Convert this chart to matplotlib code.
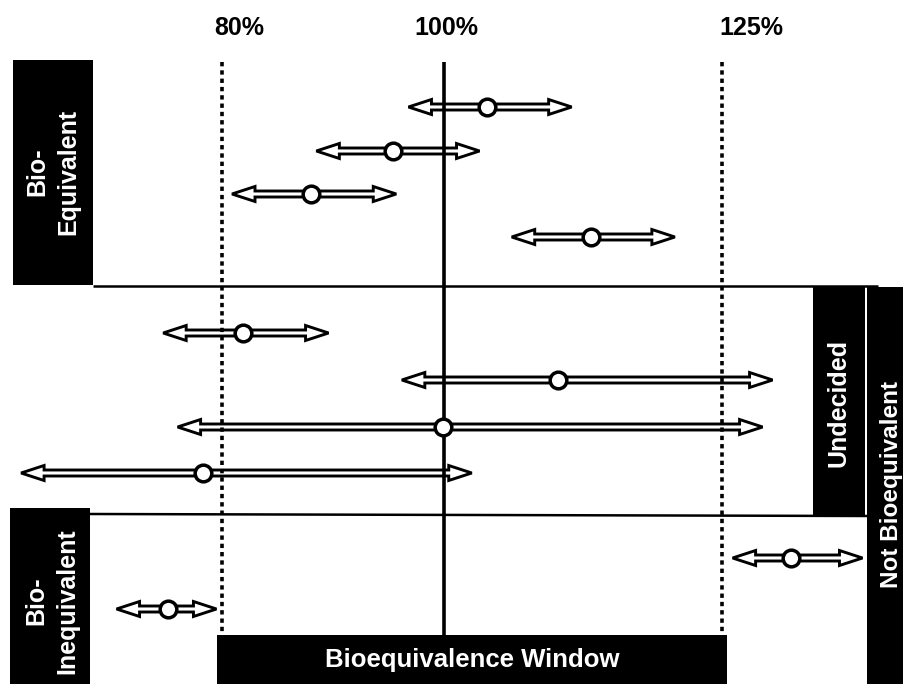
import matplotlib
matplotlib.use("Agg")
import matplotlib.pyplot as plt
from matplotlib.patches import Rectangle, FancyArrow

plt.rcParams['font.family'] = ['Liberation Sans', 'DejaVu Sans']

# ratio estimates (% of reference) and confidence limits, top to bottom
lower = [96.8, 88.5, 80.9, 106.1, 74.7, 96.2, 76.0, 61.9, 126.0, 70.5]
point = [103.9, 95.4, 88.0, 113.2, 81.9, 110.3, 99.9, 78.3, 131.3, 75.1]
upper = [111.5, 103.2, 95.7, 120.8, 89.6, 129.6, 128.7, 102.5, 137.7, 79.5]
# vertical row positions (figure pixels)
rows = [107, 151, 194, 237, 333, 380, 427, 473, 558, 609]

limits = [80, 100, 125]
limit_labels = ["80%", "100%", "125%"]

W, H = 904, 684
px_per_pct = 11.1

fig = plt.figure(figsize=(W / 100, H / 100), dpi=100)

# background layer in pixel units for the boxes and labels
bg = fig.add_axes([0, 0, 1, 1])
bg.set_xlim(0, W)
bg.set_ylim(H, 0)
bg.axis("off")

# data layer: x in percent
ax = fig.add_axes([0, 0, 1, 1], facecolor="none")
x0 = 100 - 444 / px_per_pct
ax.set_xlim(x0, x0 + W / px_per_pct)
ax.set_ylim(H, 0)
ax.axis("off")

# black label boxes
boxes = [
    (13, 60, 80, 225, "Bio-\nEquivalent", 53, 172, 18),
    (10, 508, 80, 176, "Bio-\nInequivalent", 52, 601, 18),
    (813, 287, 52, 228, "Undecided", 839, 403, 18),
    (867, 287, 37, 397, "Not Bioequivalent", 892, 485, 17.5),
]
for bx, by, bw, bh, txt, tx, ty, fs in boxes:
    bg.add_patch(Rectangle((bx, by), bw, bh, facecolor="black", edgecolor="none"))
    bg.text(tx, ty, txt, rotation=90, color="white", fontsize=fs,
            fontweight="bold", ha="center", va="center",
            multialignment="center", linespacing=1.4)

bg.add_patch(Rectangle((217, 635), 510, 49, facecolor="black", edgecolor="none"))
bg.text(472, 660, "Bioequivalence Window", color="white", fontsize=18.5,
        fontweight="bold", ha="center", va="center")

# separators between zones
bg.plot([93, 878], [286, 286], color="black", lw=1.8, solid_capstyle="butt")
bg.plot([90, 867], [514, 516], color="black", lw=1.8, solid_capstyle="butt")

# limit labels on top
label_x = [239, 446, 751]
for lx, lab in zip(label_x, limit_labels):
    bg.text(lx, 28, lab, fontsize=18, fontweight="bold", ha="center", va="center")

# confidence interval arrows
shaft = 6
head_w = 15
head_l = 23 / px_per_pct
for lo, pt, up, y in zip(lower, point, upper, rows):
    for end in (lo, up):
        ax.add_patch(FancyArrow(pt, y, end - pt, 0, width=shaft, head_width=head_w,
                                head_length=head_l, length_includes_head=True,
                                facecolor="white", edgecolor="black", lw=2.1,
                                joinstyle="miter", zorder=2))

# reference lines
for lim in limits:
    if lim == 100:
        ax.plot([lim, lim], [62, 636], color="black", lw=2.6, zorder=3,
                solid_capstyle="butt")
    else:
        ax.plot([lim, lim], [62, 636], color="black", lw=2.6, zorder=3,
                linestyle=(0, (1.2, 1.1)), dash_capstyle="butt")

ax.plot(point, rows, "o", markersize=12, markerfacecolor="white",
        markeredgecolor="black", markeredgewidth=2.5, zorder=4)

fig.savefig("out.png", dpi=100)
